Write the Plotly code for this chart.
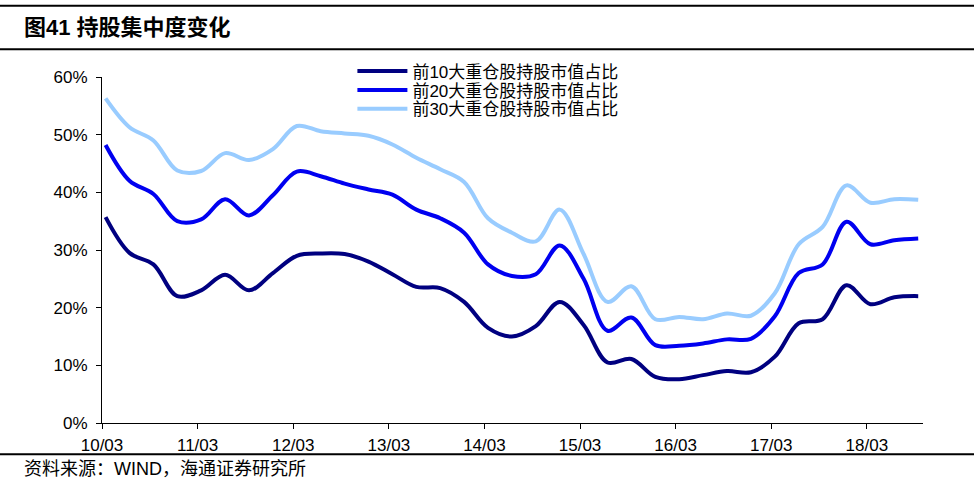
import numpy as np
import plotly.graph_objects as go

# Quarterly dates (yy/mm), 2010Q1 - 2018Q3
quarters = [f"{y:02d}/{m:02d}" for y in range(10, 19) for m in (3, 6, 9, 12)][:35]

top10 = [35.7, 29.5, 27.5, 22.0, 23.0, 25.7, 23.0, 26.0, 29.0, 29.4,
         29.3, 28.0, 25.8, 23.6, 23.4, 21.0, 16.5, 15.0, 16.8, 21.0,
         17.0, 10.5, 11.1, 8.0, 7.6, 8.3, 9.0, 8.8, 11.5, 17.3,
         18.0, 23.9, 20.6, 21.8, 22.0]
top20 = [48.2, 42.0, 39.7, 35.0, 35.3, 38.8, 36.0, 39.5, 43.6, 42.8,
         41.5, 40.5, 39.6, 37.0, 35.5, 33.0, 27.5, 25.5, 25.8, 30.8,
         25.0, 16.0, 18.3, 13.5, 13.4, 13.8, 14.5, 14.6, 18.5, 26.0,
         27.5, 34.9, 31.0, 31.7, 32.0]
top30 = [56.3, 51.3, 49.0, 43.8, 43.7, 46.8, 45.6, 47.5, 51.5, 50.6,
         50.2, 49.8, 48.3, 46.0, 44.0, 41.8, 35.5, 33.0, 31.5, 37.0,
         29.3, 21.0, 23.7, 18.0, 18.4, 18.0, 19.0, 18.6, 22.5, 31.0,
         34.0, 41.2, 38.2, 38.8, 38.7]

series_names = ["前10大重仓股持股市值占比", "前20大重仓股持股市值占比", "前30大重仓股持股市值占比"]
series_colors = ["#000080", "#0000F0", "#99CCFF"]
series_values = [top10, top20, top30]

tick_idx = list(range(0, 35, 4))
tick_labels = [quarters[i] for i in tick_idx]

x = np.arange(len(quarters)) + 0.15

FONT = "Liberation Sans, Arial, Noto Sans CJK SC, sans-serif"

legend_ids = ["legend", "legend2", "legend3"]
legend_y = [1.068, 1.0135, 0.9587]

fig = go.Figure()
for name, col, vals, lid in zip(series_names, series_colors, series_values, legend_ids):
    fig.add_trace(go.Scatter(
        x=x, y=np.array(vals) / 100.0, name=name, mode="lines", legend=lid,
        line=dict(color=col, width=4, shape="spline", smoothing=1.0),
        hoverinfo="skip"))

legend_common = dict(x=0.305, xanchor="left", yanchor="top",
                     bgcolor="rgba(0,0,0,0)", font=dict(size=17), itemwidth=50)

fig.update_layout(
    width=974, height=485,
    margin=dict(l=102, r=51, t=77, b=62),
    paper_bgcolor="white", plot_bgcolor="white",
    font=dict(family=FONT, size=17, color="#000000"),
    showlegend=True,
    legend=dict(y=legend_y[0], **legend_common),
    legend2=dict(y=legend_y[1], **legend_common),
    legend3=dict(y=legend_y[2], **legend_common),
    xaxis=dict(range=[0, 34.35], tickvals=tick_idx, ticktext=tick_labels,
               showgrid=False, zeroline=False, showline=True, linecolor="black",
               linewidth=1, ticks="outside", ticklen=5, tickcolor="black",
               tickfont=dict(size=17), ticklabelstandoff=2),
    yaxis=dict(range=[0, 0.6], tickvals=[0, 0.1, 0.2, 0.3, 0.4, 0.5, 0.6],
               tickformat=".0%", showgrid=False, zeroline=False, showline=True,
               linecolor="black", linewidth=1, ticks="outside", ticklen=5,
               tickcolor="black", tickfont=dict(size=17), ticklabelstandoff=5),
)

# Header / footer rules
for yp in (1.206, 1.080, -0.090):
    fig.add_shape(type="line", xref="paper", yref="paper", x0=-0.13, x1=1.07,
                  y0=yp, y1=yp, line=dict(color="black", width=2))

fig.add_annotation(xref="paper", yref="paper", x=-0.098, y=1.142, xanchor="left",
                   yanchor="middle", showarrow=False,
                   text="<b>图41 持股集中度变化</b>", font=dict(size=22, family=FONT))
fig.add_annotation(xref="paper", yref="paper", x=-0.098, y=-0.134, xanchor="left",
                   yanchor="middle", showarrow=False,
                   text="资料来源：WIND，海通证券研究所", font=dict(size=18, family=FONT))

fig.write_html("out.html")
